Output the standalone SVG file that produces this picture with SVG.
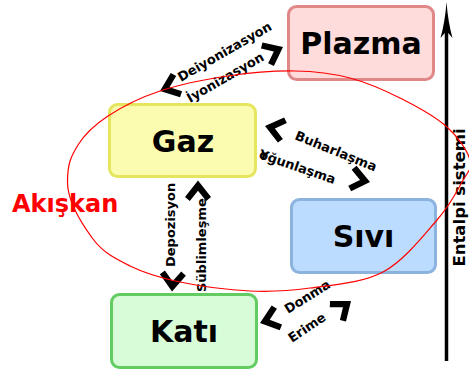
<svg xmlns="http://www.w3.org/2000/svg" xmlns:xlink="http://www.w3.org/1999/xlink" width="469" height="375" viewBox="0 0 469 375">
<style>
.box{stroke-width:3}
.lbl{font-family:"DejaVu Sans","Liberation Sans",sans-serif;font-weight:bold;font-size:30px;text-anchor:middle;fill:#000}
.sm{font-family:"DejaVu Sans","Liberation Sans",sans-serif;font-weight:bold;font-size:13px;fill:#000}
.ch{fill:#000}
</style>
<defs>
<path id="ch" d="M0,0 L-16.5,-13 L-20.5,-8.2 L-10.2,0 L-20.5,8.2 L-16.5,13 Z"/>
</defs>
<rect width="469" height="375" fill="#fff"/>
<g id="plazma">
<rect class="box" x="288.5" y="6.5" width="145" height="73" rx="8" fill="#ffdcdc" stroke="#e08888"/>
<text class="lbl" x="361" y="53.5">Plazma</text>
</g>
<g id="gaz">
<rect class="box" x="109.5" y="104.5" width="146" height="72" rx="8" fill="#fcfcb0" stroke="#e6e65e"/>
<text class="lbl" x="183" y="151.5">Gaz</text>
</g>
<g id="sivi">
<rect class="box" x="291.5" y="199.5" width="144" height="73" rx="8" fill="#bcdcff" stroke="#8cb2de"/>
<text class="lbl" x="363.5" y="246.5">Sıvı</text>
</g>
<g id="kati">
<rect class="box" x="111.5" y="294.5" width="145" height="73" rx="8" fill="#d8fcd8" stroke="#62cc62"/>
<text class="lbl" x="184" y="341.5">Katı</text>
</g>
<g id="connectors">
<use xlink:href="#ch" class="ch" transform="translate(160,91) rotate(159)"/>
<use xlink:href="#ch" class="ch" transform="translate(283,47) rotate(-26)"/>
<use xlink:href="#ch" class="ch" transform="translate(265,126) rotate(194)"/>
<use xlink:href="#ch" class="ch" transform="translate(370,182) rotate(12)"/>
<use xlink:href="#ch" class="ch" transform="translate(198,180.5) rotate(-90)"/>
<use xlink:href="#ch" class="ch" transform="translate(172,291.5) rotate(93)"/>
<use xlink:href="#ch" class="ch" transform="translate(260,323) rotate(162)"/>
<use xlink:href="#ch" class="ch" transform="translate(351,301) rotate(-38)"/>
<text class="sm" transform="translate(181,82) rotate(-30)">Deiyonizasyon</text>
<text class="sm" transform="translate(190,103) rotate(-30)">İyonizasyon</text>
<text class="sm" transform="translate(294,139) rotate(22)">Buharlaşma</text>
<text class="sm" transform="translate(258,158) rotate(19)">Y<tspan dx="-8">oğunlaşma</tspan></text>
<text class="sm" transform="translate(175,267) rotate(-90)">Depozisyon</text>
<text class="sm" transform="translate(206,292) rotate(-90)">Süblimleşme</text>
<text class="sm" transform="translate(288,314) rotate(-32)">Donma</text>
<text class="sm" transform="translate(292,343) rotate(-34)">Erime</text>
</g>
<g id="entalpi">
<line x1="446.5" y1="361" x2="446.5" y2="30" stroke="#000" stroke-width="3.5"/>
<path d="M446.5,2 Q445,22 440.5,38 L446.5,31 L452.5,38 Q448,22 446.5,2 Z" fill="#000"/>
<text transform="translate(464.5,197.5) rotate(-90)" text-anchor="middle" font-family="DejaVu Sans, Liberation Sans, sans-serif" font-weight="bold" font-size="16.5">Entalpi sistemi</text>
</g>
<g id="akiskan">
<text x="12" y="212" font-family="DejaVu Sans, Liberation Sans, sans-serif" font-weight="bold" font-size="24" fill="#ff0000">Akışkan</text>
<path fill="none" stroke="#ff0000" stroke-width="1.2" d="M67.5,182 C67.5,163 71.25,156 78,145 C84.75,134 94.33,125 108,116 C121.67,107 140,97.67 160,91 C180,84.33 205.5,79.33 228,76 C250.5,72.67 274.67,70.67 295,71 C315.33,71.33 332.17,73.33 350,78 C367.83,82.67 385.83,90.83 402,99 C418.17,107.17 435.67,116.83 447,127 C458.33,137.17 467.5,150.83 470,160 C472.5,169.17 467.5,172 462,182 C456.5,192 450.17,205 437,220 C423.83,235 404.17,260.67 383,272 C361.83,283.33 332.17,284.83 310,288 C288.33,291 271.67,292 250,291 C228.33,290 200,286.17 180,282 C160,277.83 144.5,273.17 130,266 C115.5,258.83 103.42,253 93,239 C82.58,225 67.5,201 67.5,182 Z"/>
</g>
</svg>
